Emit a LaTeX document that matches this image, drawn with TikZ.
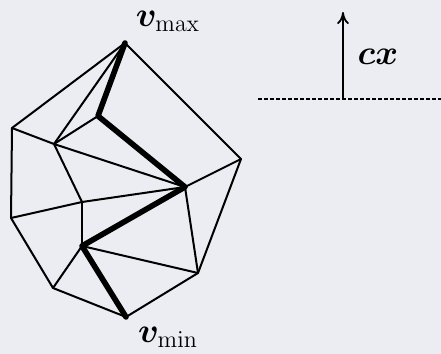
\documentclass[tikz,border=0pt]{standalone}
\usepackage{bm}
\usetikzlibrary{arrows.meta}
\definecolor{bg}{RGB}{236,236,243}
\begin{document}
\begin{tikzpicture}[x=0.5pt,y=-0.5pt,
  edge/.style={line width=1pt,line join=round},
  thick edge/.style={line width=2.8pt,line cap=round,line join=round},
  lbl/.style={font=\fontsize{18}{20}\selectfont,inner sep=0pt}]
\fill[bg] (0,0) rectangle (441,354);
\useasboundingbox (0,0) rectangle (441,354);
% vertices
\coordinate (T) at (125,43);
\coordinate (A) at (12,128);
\coordinate (B) at (54,144);
\coordinate (C) at (98,116);
\coordinate (R) at (241,159);
\coordinate (L) at (11,218);
\coordinate (D) at (82,202);
\coordinate (E) at (185,187);
\coordinate (F) at (82,246);
\coordinate (G) at (53,288);
\coordinate (Bo) at (126,317);
\coordinate (H) at (198,273);
% outer polygon
\draw[edge] (T) -- (R) -- (H) -- (Bo) -- (G) -- (L) -- (A) -- cycle;
% internal edges
\draw[edge] (T) -- (B);
\draw[edge] (A) -- (B);
\draw[edge] (B) -- (C);
\draw[edge] (B) -- (E);
\draw[edge] (B) -- (D);
\draw[edge] (D) -- (L);
\draw[edge] (D) -- (E);
\draw[edge] (D) -- (F);
\draw[edge] (E) -- (R);
\draw[edge] (E) -- (H);
\draw[edge] (F) -- (H);
\draw[edge] (F) -- (G);
% thick path
\draw[thick edge] (T) -- (C) -- (E) -- (F) -- (Bo);
% labels
\node[lbl] (vmax) at (168,21) {$\bm{v}_{\max}$};
\node[lbl] (vmin) at (168,337) {$\bm{v}_{\min}$};
% objective direction
\coordinate (dl) at (258,99);
\coordinate (dr) at (441,99);
\coordinate (base) at (343,99);
\coordinate (tip) at (343,12);
\draw[line width=1pt,dash pattern=on 2pt off 1pt] (dl) -- (dr);
\draw[line width=0.9pt,-{To[length=6pt,width=6pt]}] (base) -- (tip);
\node[lbl] (cx) at (378,57) {$\bm{cx}$};
\end{tikzpicture}
\end{document}
